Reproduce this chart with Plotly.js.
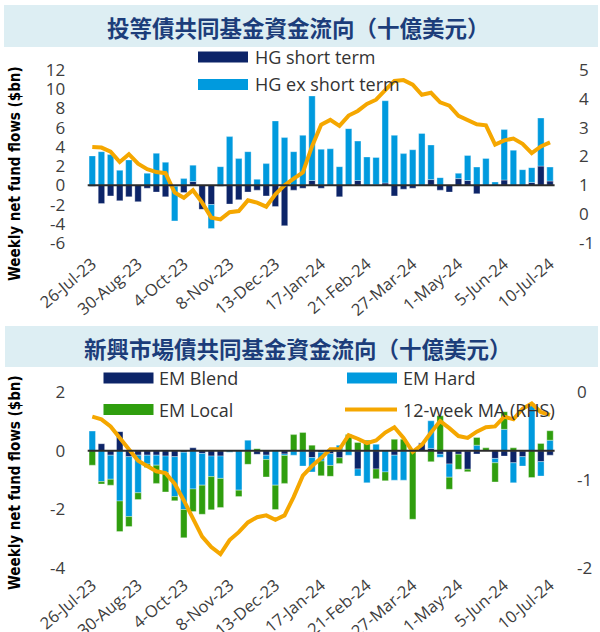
<!DOCTYPE html>
<html><head><meta charset="utf-8">
<script src="https://cdn.plot.ly/plotly-3.0.1.min.js"></script>
<style>html,body{margin:0;padding:0;background:#fff;}#chart{width:600px;height:632px;}</style>
</head><body><div id="chart"></div>
<script>
// ---------- data ----------
const weeks = ["26-Jul-23","2-Aug-23","9-Aug-23","16-Aug-23","23-Aug-23","30-Aug-23","6-Sep-23","13-Sep-23","20-Sep-23","27-Sep-23",
"4-Oct-23","11-Oct-23","18-Oct-23","25-Oct-23","1-Nov-23","8-Nov-23","15-Nov-23","22-Nov-23","29-Nov-23","6-Dec-23",
"13-Dec-23","20-Dec-23","27-Dec-23","3-Jan-24","10-Jan-24","17-Jan-24","24-Jan-24","31-Jan-24","7-Feb-24","14-Feb-24",
"21-Feb-24","28-Feb-24","6-Mar-24","13-Mar-24","20-Mar-24","27-Mar-24","3-Apr-24","10-Apr-24","17-Apr-24","24-Apr-24",
"1-May-24","8-May-24","15-May-24","22-May-24","29-May-24","5-Jun-24","12-Jun-24","19-Jun-24","26-Jun-24","3-Jul-24","10-Jul-24"];
const tickLabels = ["26-Jul-23","30-Aug-23","4-Oct-23","8-Nov-23","13-Dec-23","17-Jan-24","21-Feb-24","27-Mar-24","1-May-24","5-Jun-24","10-Jul-24"];

// Top panel: investment-grade (HG) fund flows, $bn
const hgShort = [-0.1,-1.9,-1.1,-1.6,-1.2,-1.7,-0.3,-0.7,-1.2,-0.1,
-0.75,0.4,-2.5,-2.0,-0.1,-1.95,-1.5,-0.7,-0.5,-1.1,
-2.2,-4.2,-0.5,-0.3,0.5,-0.3,-0.05,-1.2,0,0.5,
0,0.05,0.25,-1.1,-0.4,-0.3,0,0.6,-0.5,-0.7,
0.7,0.5,-0.87,0,0,0.55,0,0,0.3,2.0,0.45];
const hgExShort = [3.06,3.5,3.2,1.56,2.64,0,1.25,3.33,2.4,-3.6,
0.7,1.7,0,-2.5,1.94,5.07,2.78,3.5,0.62,2.26,
6.7,4.97,3.5,5.2,8.8,3.75,3.8,1.94,5.9,4.1,
2.95,2.85,8.55,5.2,3.3,3.7,5.4,3.6,0.8,0,
0.55,2.6,1.9,2.8,0.35,5.25,3.65,1.63,1.54,5.0,1.45];
const hgMA = [2.33,2.31,2.17,1.81,2.08,1.75,1.56,1.46,1.42,0.75,
0.57,0.83,0.40,-0.12,-0.18,0.07,0.11,0.48,0.40,0.26,
0.69,1.00,1.23,1.45,2.35,3.1,3.27,3.06,3.42,3.58,
3.82,3.97,4.3,4.62,4.65,4.49,4.14,4.21,3.88,3.76,
3.41,3.27,3.12,3.08,2.41,2.56,2.62,2.44,2.12,2.35,2.49];

// Bottom panel: EM bond fund flows, $bn
const emBlend = [0,0.24,-0.15,0.65,-0.2,-0.15,-0.15,-0.15,-0.18,-0.2,
-0.05,0.1,-0.09,-0.18,-0.18,0,0,0,-0.12,-0.15,
0,-0.11,0,0,-0.23,-0.05,-0.1,-0.24,0,-0.62,
0,-0.62,0,-0.15,0,0,0.27,0.08,-0.12,-0.45,
-0.12,-0.63,-0.11,0,-0.26,-0.18,-0.41,-0.2,0,-0.37,-0.15];
const emHard = [0.67,-1.05,-0.82,-1.71,-2.04,-1.28,-0.3,-0.34,-0.56,-1.36,
-1.95,-1.3,-1.08,-0.7,-0.76,-0.05,-1.34,0.36,0,-0.15,
-1.17,-0.05,-0.15,-0.52,-0.49,-0.3,-0.4,0.19,-0.15,-0.24,
-1.09,0.22,-0.72,-0.85,-1.0,0,0,0.94,-0.1,-0.45,
0,0,0.19,0,-0.15,0.73,-0.68,-0.32,1.61,-0.49,0.36];
const emLocal = [-0.49,-0.08,-0.2,-1.04,-0.34,-0.23,-0.12,-0.62,-0.66,-0.14,
-0.96,-0.77,-0.99,-1.13,-0.99,0,-0.22,-0.46,0.07,-0.59,
-0.83,-0.95,0.55,0.62,0.19,-0.5,-0.37,-0.19,0.55,0.28,
0.36,-0.33,-0.3,0.39,0.39,-2.33,0,-0.37,1.19,-0.41,
-0.51,-0.08,0.26,0.1,-0.65,0.6,0.1,0,-0.91,0.25,0.32];
const emMA = [-0.28,-0.31,-0.39,-0.52,-0.65,-0.78,-0.84,-0.9,-0.92,-1.04,
-1.23,-1.44,-1.64,-1.76,-1.84,-1.68,-1.59,-1.48,-1.42,-1.4,
-1.45,-1.4,-1.19,-0.95,-0.84,-0.75,-0.65,-0.65,-0.49,-0.53,
-0.58,-0.55,-0.46,-0.4,-0.52,-0.68,-0.6,-0.46,-0.33,-0.41,
-0.5,-0.52,-0.45,-0.4,-0.39,-0.28,-0.31,-0.19,-0.13,-0.23,-0.26];

const topLeftTicks = [-6,-4,-2,0,2,4,6,8,10,12];
const topRightTicks = [-1,0,1,2,3,4,5];
const botLeftTicks = [-4,-2,0,2];
const botRightTicks = [-2,-1,0];

const title1 = "投等債共同基金資金流向（十億美元）";
const title2 = "新興市場債共同基金資金流向（十億美元）";
const yTitle = "Weekly net fund flows ($bn)";

// ---------- style ----------
const NAVY = "#0C2468", LIGHT = "#009ADE", GREEN = "#2F9E0E", ORANGE = "#F5A700";
const TITLE_BG = "#DDEEF3", TITLE_COL = "#1C3D7A";
const W = 600, H = 632;
const px = v => v / W, py = v => 1 - v / H;
const LAT = "Open Sans, Segoe UI, sans-serif";
const tickFont = {family: LAT, size: 17, color: "#3d3d3d"};
const xl = px(87.7), xr = px(554.6);

function yAx(domain, range, ticks, extra) {
  return Object.assign({domain: domain, range: range, tickmode: "array", tickvals: ticks,
    ticktext: ticks.map(String), ticks: "outside", ticklen: 18, tickcolor: "rgba(0,0,0,0)",
    showgrid: false, zeroline: false, showline: false, tickfont: tickFont, fixedrange: true}, extra || {});
}
function xAx(anchor, tl) {
  return {domain: [xl, xr], anchor: anchor, type: "category", range: [-0.5, weeks.length - 0.5],
    tickmode: "array", tickvals: tickLabels, ticktext: tickLabels, tickangle: -40,
    ticks: "outside", ticklen: tl, tickcolor: "rgba(0,0,0,0)", showgrid: false, zeroline: false,
    showline: false, tickfont: {family: LAT, size: 16.5, color: "#3d3d3d"}, fixedrange: true};
}
const barLine = {width: 0.6, color: "rgba(255,255,255,0.55)"};

const traces = [
  {type: "bar", name: "HG short term", x: weeks, y: hgShort, xaxis: "x", yaxis: "y", marker: {color: NAVY, line: barLine}},
  {type: "bar", name: "HG ex short term", x: weeks, y: hgExShort, xaxis: "x", yaxis: "y", marker: {color: LIGHT, line: barLine}},
  {type: "scatter", mode: "lines", name: "HG 12-week MA", x: weeks, y: hgMA, xaxis: "x", yaxis: "y2", line: {color: ORANGE, width: 4}},
  {type: "bar", name: "EM Blend", x: weeks, y: emBlend, xaxis: "x2", yaxis: "y3", marker: {color: NAVY, line: barLine}},
  {type: "bar", name: "EM Hard", x: weeks, y: emHard, xaxis: "x2", yaxis: "y3", marker: {color: LIGHT, line: barLine}},
  {type: "bar", name: "EM Local", x: weeks, y: emLocal, xaxis: "x2", yaxis: "y3", marker: {color: GREEN, line: barLine}},
  {type: "scatter", mode: "lines", name: "12-week MA (RHS)", x: weeks, y: emMA, xaxis: "x2", yaxis: "y4", line: {color: ORANGE, width: 4}}
];

const legFont = {family: LAT, size: 18, color: "#333"};
function legText(t, x, y) {
  return {text: t, x: px(x), y: py(y), xref: "paper", yref: "paper", xanchor: "left", yanchor: "middle", showarrow: false, font: legFont};
}
function swatch(x0, yc, color) {
  return {type: "rect", xref: "paper", yref: "paper", x0: px(x0), x1: px(x0 + 50), y0: py(yc + 5.5), y1: py(yc - 5.5), fillcolor: color, line: {width: 0}};
}
const yTitleFont = {family: "Liberation Sans Narrow, Arial Narrow, DejaVu Sans Condensed, sans-serif", size: 15, color: "#000"};

const layout = {
  width: W, height: H, margin: {l: 0, r: 0, t: 0, b: 0},
  paper_bgcolor: "#fff", plot_bgcolor: "rgba(0,0,0,0)",
  showlegend: false, barmode: "relative", bargap: 0.3,
  xaxis: xAx("y", 4),
  yaxis: yAx([py(243), py(70)], [-6, 12], topLeftTicks, {anchor: "x"}),
  yaxis2: yAx([py(243), py(70)], [-1, 5], topRightTicks, {anchor: "x", overlaying: "y", side: "right", ticklen: 20}),
  xaxis2: xAx("y3", 0),
  yaxis3: yAx([py(568.3), py(392)], [-4, 2], botLeftTicks, {anchor: "x2"}),
  yaxis4: yAx([py(568.3), py(392)], [-2, 0], botRightTicks, {anchor: "x2", overlaying: "y3", side: "right", ticklen: 18}),
  shapes: [
    {type: "rect", xref: "paper", yref: "paper", x0: px(4), x1: px(598), y0: py(47), y1: py(5), fillcolor: TITLE_BG, line: {width: 0}, layer: "below"},
    {type: "rect", xref: "paper", yref: "paper", x0: px(5), x1: px(598), y0: py(367), y1: py(326), fillcolor: TITLE_BG, line: {width: 0}, layer: "below"},
    {type: "line", xref: "x domain", yref: "y", x0: 0, x1: 1, y0: 0, y1: 0, line: {color: "#2b2b2b", width: 2}, layer: "above"},
    {type: "line", xref: "x2 domain", yref: "y3", x0: 0, x1: 1, y0: 0, y1: 0, line: {color: "#2b2b2b", width: 2}, layer: "above"},
    swatch(198, 57, NAVY), swatch(198, 84.5, LIGHT),
    swatch(103.5, 378, NAVY), swatch(347, 378, LIGHT), swatch(103.5, 409.5, GREEN),
    {type: "line", xref: "paper", yref: "paper", x0: px(345), x1: px(397), y0: py(409.5), y1: py(409.5), line: {color: ORANGE, width: 4}}
  ],
  annotations: [
    {text: "<b>" + title1 + "</b>", x: px(298), y: py(26.5), xref: "paper", yref: "paper", showarrow: false, xanchor: "center", yanchor: "middle",
     font: {family: "Noto Sans CJK TC, Noto Sans CJK SC, sans-serif", size: 22.5, color: TITLE_COL}},
    {text: "<b>" + title2 + "</b>", x: px(297.5), y: py(347.5), xref: "paper", yref: "paper", showarrow: false, xanchor: "center", yanchor: "middle",
     font: {family: "Noto Sans CJK TC, Noto Sans CJK SC, sans-serif", size: 22.5, color: TITLE_COL}},
    {text: "<b>" + yTitle + "</b>", textangle: -90, x: px(15), y: py(174), xref: "paper", yref: "paper", showarrow: false, xanchor: "center", yanchor: "middle", font: yTitleFont},
    {text: "<b>" + yTitle + "</b>", textangle: -90, x: px(15), y: py(483), xref: "paper", yref: "paper", showarrow: false, xanchor: "center", yanchor: "middle", font: yTitleFont},
    legText("HG short term", 253, 57), legText("HG ex short term", 253, 84.5),
    legText("EM Blend", 157, 378), legText("EM Hard", 401, 378),
    legText("EM Local", 157, 409.5), legText("12-week MA (RHS)", 401, 409.5)
  ]
};

Plotly.newPlot("chart", traces, layout, {staticPlot: true, displayModeBar: false});
</script>
</body></html>
